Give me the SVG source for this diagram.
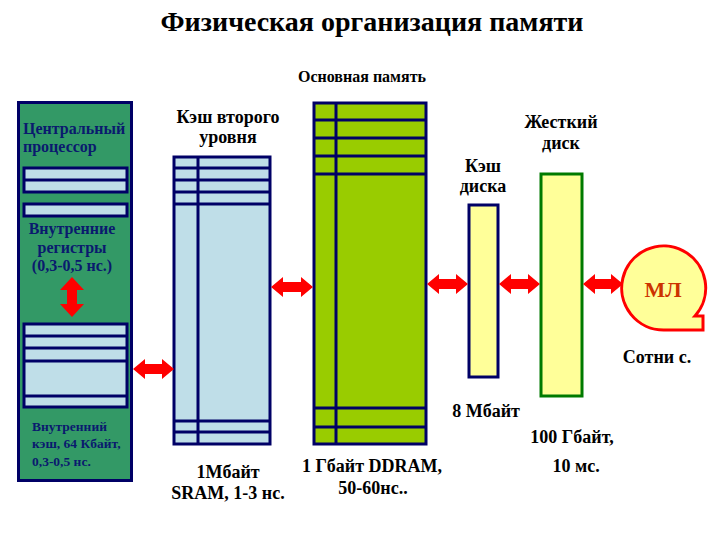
<svg xmlns="http://www.w3.org/2000/svg" width="720" height="540" viewBox="0 0 720 540">
<style>
text{font-family:"Liberation Serif","DejaVu Serif","Noto Serif","Noto Serif CJK SC","FreeSerif",serif;font-weight:bold;}
.blk{fill:#000000;}
.nav{fill:#0A1A6E;}
.c{text-anchor:middle;}
.box{stroke:#000066;stroke-width:3;}
.ln{stroke:#000066;stroke-width:3;fill:none;}
.lb{fill:#BFDEE8;}
.arr{fill:#FF0000;stroke:none;}
.lab{font-size:18px;}
</style>
<rect width="720" height="540" fill="#FFFFFF"/>
<text class="blk c" x="372" y="31" font-size="28">Физическая организация памяти</text>
<text class="blk c" x="362" y="82" font-size="16">Основная память</text>

<g id="cpu">
<rect class="box" x="18.5" y="102.5" width="113" height="378" fill="#339966"/>
<text class="nav" x="23" y="134" font-size="16">Центральный</text>
<text class="nav" x="23" y="152" font-size="16">процессор</text>
<g id="registers">
<rect class="box lb" x="24" y="168" width="103" height="24"/>
<line class="ln" x1="24" y1="180" x2="127" y2="180"/>
<rect class="box lb" x="24" y="204" width="103" height="12"/>
</g>
<text class="nav c" x="72" y="234" font-size="16">Внутренние</text>
<text class="nav c" x="72" y="253" font-size="16">регистры</text>
<text class="nav c" x="72" y="271" font-size="16">(0,3-0,5 нс.)</text>
<g id="internal-cache">
<rect class="box lb" x="24" y="324" width="103" height="83"/>
<line class="ln" x1="24" y1="336" x2="127" y2="336"/>
<line class="ln" x1="24" y1="348" x2="127" y2="348"/>
<line class="ln" x1="24" y1="361" x2="127" y2="361"/>
<line class="ln" x1="24" y1="396" x2="127" y2="396"/>
</g>
<text class="nav" x="32" y="431" font-size="13.5">Внутренний</text>
<text class="nav" x="32" y="448" font-size="13.5">кэш, 64 Кбайт,</text>
<text class="nav" x="32" y="466" font-size="13.5">0,3-0,5 нс.</text>
</g>

<g id="l2">
<text class="blk c lab" x="228" y="123">Кэш второго</text>
<text class="blk c lab" x="228" y="143">уровня</text>
<rect class="box lb" x="174" y="157" width="96" height="287"/>
<line class="ln" x1="198" y1="157" x2="198" y2="444"/>
<line class="ln" x1="174" y1="168" x2="270" y2="168"/>
<line class="ln" x1="174" y1="180" x2="270" y2="180"/>
<line class="ln" x1="174" y1="192" x2="270" y2="192"/>
<line class="ln" x1="174" y1="204" x2="270" y2="204"/>
<line class="ln" x1="174" y1="421" x2="270" y2="421"/>
<line class="ln" x1="174" y1="432" x2="270" y2="432"/>
<text class="blk c lab" x="228" y="478">1Мбайт</text>
<text class="blk c lab" x="228" y="499">SRAM, 1-3 нс.</text>
</g>

<g id="dram">
<rect class="box" x="314" y="103" width="112" height="341" fill="#99CC00"/>
<line class="ln" x1="336" y1="103" x2="336" y2="444"/>
<line class="ln" x1="314" y1="120" x2="426" y2="120"/>
<line class="ln" x1="314" y1="138" x2="426" y2="138"/>
<line class="ln" x1="314" y1="156" x2="426" y2="156"/>
<line class="ln" x1="314" y1="174" x2="426" y2="174"/>
<line class="ln" x1="314" y1="408" x2="426" y2="408"/>
<line class="ln" x1="314" y1="427" x2="426" y2="427"/>
<text class="blk c lab" x="372" y="472">1 Гбайт DDRAM,</text>
<text class="blk c lab" x="373" y="494">50-60нс..</text>
</g>

<g id="disk-cache">
<text class="blk c lab" x="483" y="172">Кэш</text>
<text class="blk c lab" x="483" y="192">диска</text>
<rect class="box" x="469" y="205" width="29" height="172" fill="#FFFF99"/>
<text class="blk c lab" x="486" y="417">8 Мбайт</text>
</g>

<g id="hard-disk">
<text class="blk c lab" x="561" y="128">Жесткий</text>
<text class="blk c lab" x="561" y="149">диск</text>
<rect x="541" y="174" width="41" height="222" fill="#FFFF99" stroke="#007A00" stroke-width="3"/>
<text class="blk c lab" x="572" y="443">100 Гбайт,</text>
<text class="blk c lab" x="576" y="472">10 мс.</text>
</g>

<g id="tape">
<path d="M 664 330 A 42 42 0 1 1 695 316 L 703 316 L 703 330 Z" fill="#FFFF99" stroke="#FF0000" stroke-width="3" stroke-linejoin="miter"/>
<text class="c" x="663" y="297" font-size="22" fill="#CC3300">МЛ</text>
<text class="blk c lab" x="657" y="363">Сотни с.</text>
</g>

<g id="connectors">
<polygon class="arr" points="72,277 84,290 77,290 77,304 84,304 72,317 60,304 67,304 67,290 60,290"/>
<polygon class="arr" points="133,369 145,359 145,364 162,364 162,359 174,369 162,379 162,374 145,374 145,379"/>
<polygon class="arr" points="271,287 283,277 283,282 301,282 301,277 313,287 301,297 301,292 283,292 283,297"/>
<polygon class="arr" points="427,284 439,274 439,279 456,279 456,274 468,284 456,294 456,289 439,289 439,294"/>
<polygon class="arr" points="499,284 511,274 511,279 528,279 528,274 540,284 528,294 528,289 511,289 511,294"/>
<polygon class="arr" points="583,284 595,274 595,279 611,279 611,274 623,284 611,294 611,289 595,289 595,294"/>
</g>
</svg>
